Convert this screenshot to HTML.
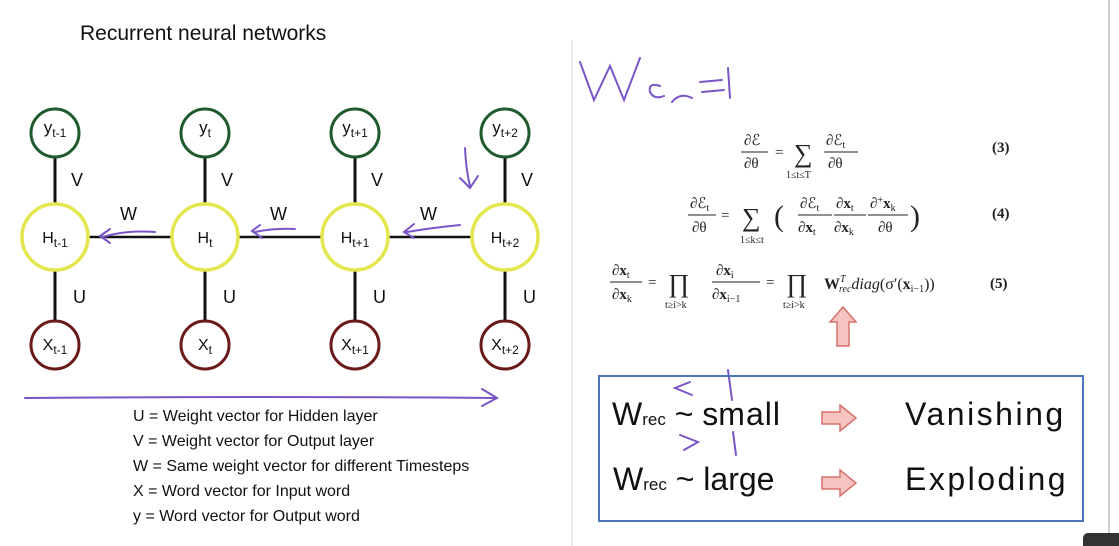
<!DOCTYPE html>
<html><head><meta charset="utf-8"><style>
html,body{margin:0;padding:0;background:#fff;}
svg{display:block;font-family:"Liberation Sans",sans-serif;}
.m{font-family:"Liberation Serif",serif;fill:#222;}
</style></head><body>
<svg width="1119" height="546" viewBox="0 0 1119 546">
<rect width="1119" height="546" fill="#fff"/>
<line x1="572" y1="40" x2="572" y2="546" stroke="#e4e4e4" stroke-width="1.5"/>
<line x1="1109" y1="0" x2="1109" y2="546" stroke="#d0d0d0" stroke-width="2"/>
<text x="80" y="40" font-size="21" fill="#111">Recurrent neural networks</text>
<g id="net"></g>
<g font-size="16" fill="#111">
<text x="133" y="421">U = Weight vector for Hidden layer</text>
<text x="133" y="446">V = Weight vector for Output layer</text>
<text x="133" y="471">W = Same weight vector for different Timesteps</text>
<text x="133" y="496">X = Word vector for Input word</text>
<text x="133" y="521">y = Word vector for Output word</text>
</g>
<g stroke="#7a55c8" stroke-width="2" fill="none" stroke-linecap="round">
<path d="M25 398 Q260 396 495 398 M482 389 L497 398 L482 406"/>
<path d="M103 237 Q125 230 155 232 M110 229 L100 236 L110 243"/>
<path d="M255 232 Q275 228 295 229 M260 225 L252 231 L262 238"/>
<path d="M407 232 Q430 228 460 225 M414 224 L404 232 L414 238"/>
<path d="M465 148 Q466 170 470 186 M460 178 L470 188 L478 176"/>
<path d="M580 62 L594 100 L610 66 L624 100 L640 58"/>
<path d="M660 86 Q648 82 650 92 Q654 100 664 96 M672 102 Q680 92 692 98"/>
<path d="M700 82 L722 80 M702 92 L724 90 M728 68 L730 98"/>
<path d="M690 382 L675 388 L692 395 M728 370 L732 400"/>
<path d="M680 435 L698 442 L684 450 M733 432 L736 455"/>
</g>
<g class="m" font-size="15">
<text x="744" y="145">∂ℰ</text><line x1="741" y1="152" x2="768" y2="152" stroke="#222"/><text x="744" y="168">∂θ</text>
<text x="775" y="157">=</text><text x="794" y="162" font-size="26">∑</text><text x="786" y="178" font-size="10">1≤t≤T</text>
<text x="826" y="145">∂ℰ<tspan font-size="10" dy="3">t</tspan></text><line x1="824" y1="152" x2="858" y2="152" stroke="#222"/><text x="828" y="168">∂θ</text>
<text x="992" y="152" font-weight="bold">(3)</text>
<text x="690" y="208">∂ℰ<tspan font-size="10" dy="3">t</tspan></text><line x1="688" y1="215" x2="716" y2="215" stroke="#222"/><text x="692" y="232">∂θ</text>
<text x="721" y="220">=</text><text x="742" y="226" font-size="26">∑</text><text x="740" y="243" font-size="10">1≤k≤t</text>
<text x="774" y="226" font-size="30">(</text>
<text x="800" y="208">∂ℰ<tspan font-size="10" dy="3">t</tspan></text><line x1="798" y1="215" x2="832" y2="215" stroke="#222"/><text x="798" y="232">∂<tspan font-weight="bold">x</tspan><tspan font-size="10" dy="3">t</tspan></text>
<text x="836" y="208">∂<tspan font-weight="bold">x</tspan><tspan font-size="10" dy="3">t</tspan></text><line x1="834" y1="215" x2="866" y2="215" stroke="#222"/><text x="834" y="232">∂<tspan font-weight="bold">x</tspan><tspan font-size="10" dy="3">k</tspan></text>
<text x="870" y="208">∂<tspan font-size="10" dy="-5">+</tspan><tspan font-weight="bold" dy="5">x</tspan><tspan font-size="10" dy="3">k</tspan></text><line x1="868" y1="215" x2="908" y2="215" stroke="#222"/><text x="878" y="232">∂θ</text>
<text x="910" y="226" font-size="30">)</text>
<text x="992" y="218" font-weight="bold">(4)</text>
<text x="612" y="275">∂<tspan font-weight="bold">x</tspan><tspan font-size="10" dy="3">t</tspan></text><line x1="610" y1="282" x2="642" y2="282" stroke="#222"/><text x="612" y="299">∂<tspan font-weight="bold">x</tspan><tspan font-size="10" dy="3">k</tspan></text>
<text x="648" y="287">=</text><text x="668" y="292" font-size="26">∏</text><text x="665" y="308" font-size="10">t≥i&gt;k</text>
<text x="716" y="275">∂<tspan font-weight="bold">x</tspan><tspan font-size="10" dy="3">i</tspan></text><line x1="712" y1="282" x2="760" y2="282" stroke="#222"/><text x="712" y="299">∂<tspan font-weight="bold">x</tspan><tspan font-size="10" dy="3">i−1</tspan></text>
<text x="766" y="287">=</text><text x="786" y="292" font-size="26">∏</text><text x="783" y="308" font-size="10">t≥i&gt;k</text>
<text x="824" y="289" font-size="16"><tspan font-weight="bold">W</tspan><tspan font-size="10" dy="-7" font-style="italic">T</tspan><tspan font-size="10" dy="10" dx="-6" font-style="italic">rec</tspan><tspan dy="-3" font-style="italic">diag</tspan>(σ′(<tspan font-weight="bold">x</tspan><tspan font-size="10" dy="3">i−1</tspan><tspan dy="-3">))</tspan></text>
<text x="990" y="288" font-weight="bold">(5)</text>
</g>
<path d="M843 307 L856 322 L849 322 L849 346 L837 346 L837 322 L830 322 Z" fill="#f6c3c0" stroke="#d8716a" stroke-width="1.5"/>
<rect x="599" y="376" width="484" height="145" fill="none" stroke="#4a76b8" stroke-width="2"/>
<g font-size="32" fill="#111">
<text x="612" y="425">W<tspan font-size="17">rec</tspan> ~ s<tspan letter-spacing="1">mall</tspan></text>
<text x="613" y="490">W<tspan font-size="17">rec</tspan> ~ large</text>
<text x="905" y="425" letter-spacing="2.5">Vanishing</text>
<text x="905" y="490" letter-spacing="2.5">Exploding</text>
</g>
<g fill="#f6c3c0" stroke="#d8716a" stroke-width="1.5">
<path d="M822 412 L840 412 L840 405 L856 418 L840 431 L840 424 L822 424 Z"/>
<path d="M822 477 L840 477 L840 470 L856 483 L840 496 L840 489 L822 489 Z"/>
</g>
<rect x="1083" y="533" width="40" height="20" rx="5" fill="#333"/>
<script>
const steps=["t-1","t","t+1","t+2"];
const xs=[55,205,355,505];
const g=document.getElementById('net');
const NS='http://www.w3.org/2000/svg';
function mk(t,a,txt,parent){const e=document.createElementNS(NS,t);for(const k in a)e.setAttribute(k,a[k]);if(txt!==undefined)e.textContent=txt;(parent||g).appendChild(e);return e;}
for(let i=0;i<3;i++){const l=mk('line',{x1:xs[i]+34,y1:237,x2:xs[i+1]-34,y2:237,stroke:'#111','stroke-width':2.5});


const w=mk('text',{x:(xs[i]+xs[i+1])/2-10,y:220,'font-size':18,fill:'#111'},'W');

}
steps.forEach((s,i)=>{const x=xs[i];
mk('line',{x1:x,y1:157,x2:x,y2:204,stroke:'#111','stroke-width':3});
mk('line',{x1:x,y1:270,x2:x,y2:321,stroke:'#111','stroke-width':3});
const v=mk('text',{x:x+16,y:186,'font-size':18,fill:'#111'},'V');


const u=mk('text',{x:x+18,y:303,'font-size':18,fill:'#111'},'U');


const c1=mk('circle',{cx:x,cy:133,r:24,fill:'#fff',stroke:'#1f5a2e','stroke-width':3});


const c2=mk('circle',{cx:x,cy:237,r:33,fill:'#fff',stroke:'#e3e64d','stroke-width':3.5});


const c3=mk('circle',{cx:x,cy:345,r:24,fill:'#fff',stroke:'#6b1a1a','stroke-width':3});


[['y',133],['H',243],['X',350]].forEach(([L,y])=>{const t=mk('text',{x:x,y:y,'font-size':L==='y'?17:16,'text-anchor':'middle',fill:'#111'});


mk('tspan',{},L,t);
mk('tspan',{'font-size':12,dy:4},s,t);
});
});
</script>
</svg>
</body></html>
